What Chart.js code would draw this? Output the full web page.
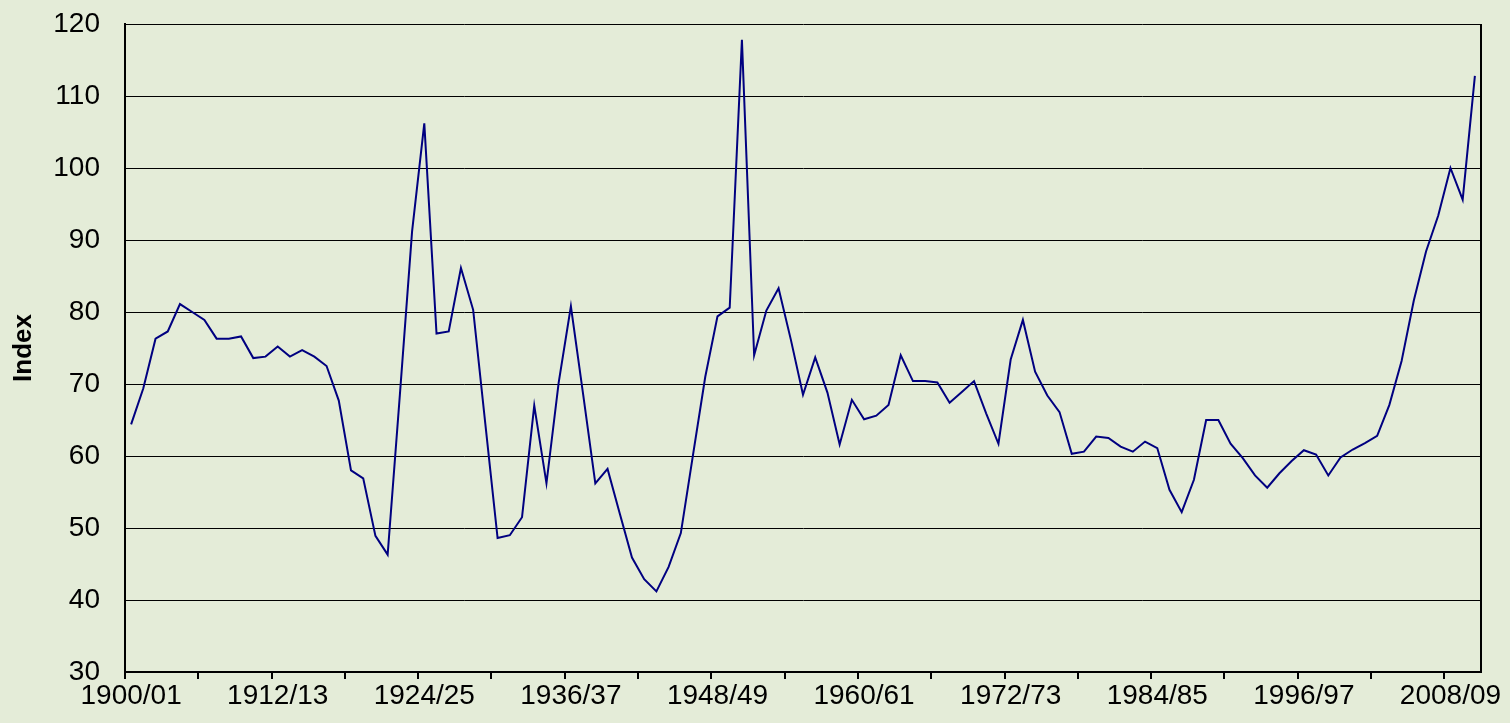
<!DOCTYPE html>
<html>
<head>
<meta charset="utf-8">
<script src="https://cdn.jsdelivr.net/npm/chart.js@4/dist/chart.umd.min.js"></script>
<style>
    html, body { margin: 0; padding: 0; background: #e4ecd8; }
    #wrap { width: 1510px; height: 723px; position: relative; }
</style>
</head>
<body>
<div id="wrap"><canvas id="chart-index"></canvas></div>
<script>
const BG = '#e4ecd8';
const LINE = '#000080';
const INK = '#000000';
const FONT = '"Liberation Sans", Arial, sans-serif';

// financial years 1900/01 .. 2010/11
const START_YEAR = 1900;
const YEAR_COUNT = 111;
const TICK_LABELS = ['1900/01', '1912/13', '1924/25', '1936/37', '1948/49', '1960/61', '1972/73', '1984/85', '1996/97', '2008/09'];
const Y_TICKS = [30, 40, 50, 60, 70, 80, 90, 100, 110, 120];

const INDEX_VALUES = [
    64.4, 69.4, 76.3, 77.3, 81.1, 80.0, 78.9, 76.3, 76.3, 76.6,
    73.6, 73.8, 75.2, 73.8, 74.7, 73.8, 72.5, 67.7, 58.0, 56.9,
    48.9, 46.3, 68.5, 91.2, 106.2, 77.0, 77.3, 86.1, 80.3, 64.4,
    48.6, 49.0, 51.5, 67.0, 56.2, 70.2, 80.8, 68.6, 56.2, 58.2,
    52.0, 45.9, 42.9, 41.2, 44.6, 49.3, 60.2, 71.0, 79.4, 80.6,
    117.8, 74.0, 80.2, 83.3, 76.2, 68.5, 73.7, 68.8, 61.6, 67.8,
    65.1, 65.6, 67.1, 74.0, 70.4, 70.4, 70.2, 67.4, 68.9, 70.4,
    65.9, 61.7, 73.4, 78.9, 71.7, 68.4, 66.1, 60.3, 60.6, 62.7,
    62.5, 61.3, 60.6, 62.0, 61.1, 55.3, 52.2, 56.7, 65.0, 65.0,
    61.7, 59.7, 57.3, 55.6, 57.6, 59.3, 60.8, 60.2, 57.3, 59.8,
    60.9, 61.8, 62.8, 67.1, 73.2, 81.6, 88.4, 93.4, 100.0, 95.6,
    112.8,
];

const years = [];
for (let i = 0; i < YEAR_COUNT; i++) {
    const y = START_YEAR + i;
    years.push(`${y}/${String((y + 1) % 100).padStart(2, '0')}`);
}

// right-hand edge of the plot frame (Excel style)
const framePlugin = {
    id: 'frame',
    afterDraw(chart) {
        const { ctx, chartArea: a } = chart;
        ctx.save();
        ctx.strokeStyle = INK;
        ctx.lineWidth = 2;
        ctx.beginPath();
        ctx.moveTo(a.right, a.top);
        ctx.lineTo(a.right, a.bottom);
        ctx.stroke();
        ctx.restore();
    },
};

new Chart(document.getElementById('chart-index'), {
    type: 'line',
    data: {
        labels: years,
        datasets: [{
            label: 'Index',
            data: INDEX_VALUES,
            borderColor: LINE,
            backgroundColor: LINE,
            borderWidth: 2,
            pointRadius: 0,
            tension: 0,
        }],
    },
    options: {
        responsive: true,
        maintainAspectRatio: false,
        animation: false,
        layout: { padding: { top: 24, right: 29, bottom: 0, left: 0 } },
        plugins: {
            legend: { display: false },
            tooltip: { enabled: false },
        },
        scales: {
            x: {
                type: 'category',
                offset: true,
                border: { color: INK, width: 2 },
                grid: {
                    offset: true,
                    drawOnChartArea: false,
                    drawTicks: true,
                    tickLength: 7,
                    lineWidth: 2,
                    color: (c) => (c.index % 6 === 0 ? INK : 'rgba(0,0,0,0)'),
                },
                ticks: {
                    autoSkip: false,
                    maxRotation: 0,
                    minRotation: 0,
                    padding: 0,
                    color: INK,
                    font: { family: FONT, size: 28 },
                    callback: (v, i) => (TICK_LABELS.includes(years[i]) ? years[i] : ''),
                },
                afterFit: (s) => { s.height = 51; s.paddingLeft = 0; s.paddingRight = 0; },
            },
            y: {
                min: Y_TICKS[0],
                max: Y_TICKS[Y_TICKS.length - 1],
                border: { color: INK, width: 2 },
                grid: {
                    color: INK,
                    lineWidth: 1,
                    drawTicks: false,
                },
                ticks: {
                    stepSize: 10,
                    padding: 25,
                    color: INK,
                    font: { family: FONT, size: 28 },
                },
                title: {
                    display: true,
                    text: 'Index',
                    color: INK,
                    font: { family: FONT, size: 26, weight: 'bold' },
                    padding: { top: 8, bottom: 0 },
                },
                afterFit: (s) => { s.width = 125; s.paddingTop = 0; s.paddingBottom = 0; },
            },
        },
    },
    plugins: [framePlugin],
});
</script>
</body>
</html>
